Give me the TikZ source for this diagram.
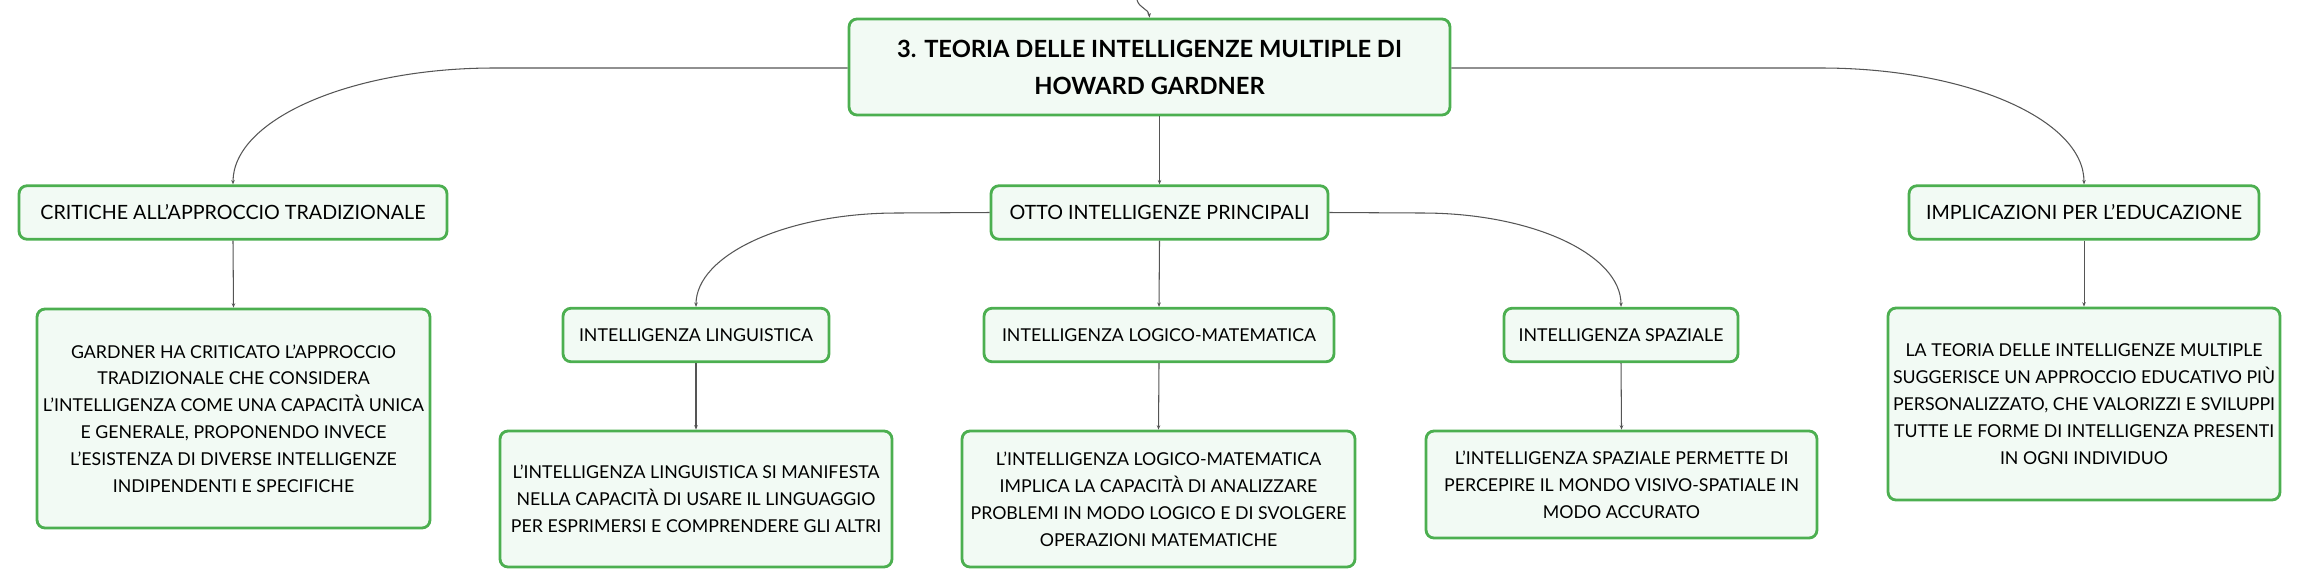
\documentclass[tikz,border=0pt]{standalone}
\usepackage{fontspec}
\setmainfont{Lato}
\usetikzlibrary{arrows.meta}
\definecolor{boxgreen}{HTML}{4CAF50}
\definecolor{boxfill}{HTML}{F2FAF4}
\definecolor{linkgray}{HTML}{555555}

\begin{document}
\begin{tikzpicture}[x=0.02cm, y=-0.02cm,
    box/.style={draw=boxgreen, fill=boxfill, line width=1.6pt, rounded corners=4.5pt, align=center, inner sep=2pt},
    head/.style={box, font=\fontsize{11.2}{14}\selectfont, minimum height=1.07cm},
    sub/.style={head, font=\fontsize{10.1}{14}\selectfont},
    desc/.style={box, font=\fontsize{10.1}{15.3}\selectfont},
    link/.style={draw=linkgray, line width=0.6pt, -{Stealth[length=2.5pt,width=2pt]}}]

    \useasboundingbox (0,0) rectangle (2301,586);

    % Nodes
    \node[box, font=\bfseries\fontsize{13.5}{21}\selectfont, minimum width=12.02cm, minimum height=1.92cm] (root) at (1149.5,67) {3. TEORIA DELLE INTELLIGENZE MULTIPLE DI\\HOWARD GARDNER};

    \node[head, minimum width=8.56cm] (crit) at (233,212.5) {CRITICHE ALL’APPROCCIO TRADIZIONALE};
    \node[head, minimum width=6.74cm] (otto) at (1159.5,212.5) {OTTO INTELLIGENZE PRINCIPALI};
    \node[head, minimum width=7.00cm] (impl) at (2084,212.5) {IMPLICAZIONI PER L’EDUCAZIONE};

    \node[sub, minimum width=5.32cm] (ling) at (696,335) {INTELLIGENZA LINGUISTICA};
    \node[sub, minimum width=7.00cm] (logi) at (1159,335) {INTELLIGENZA LOGICO-MATEMATICA};
    \node[sub, minimum width=4.68cm] (spaz) at (1621,335) {INTELLIGENZA SPAZIALE};

    \node[desc, minimum width=7.86cm, minimum height=4.38cm] (critD) at (233.5,418.5) {GARDNER HA CRITICATO L’APPROCCIO\\TRADIZIONALE CHE CONSIDERA\\L’INTELLIGENZA COME UNA CAPACITÀ UNICA\\E GENERALE, PROPONENDO INVECE\\L’ESISTENZA DI DIVERSE INTELLIGENZE\\INDIPENDENTI E SPECIFICHE};
    \node[desc, minimum width=7.84cm, minimum height=2.72cm] (lingD) at (696,499) {L’INTELLIGENZA LINGUISTICA SI MANIFESTA\\NELLA CAPACITÀ DI USARE IL LINGUAGGIO\\PER ESPRIMERSI E COMPRENDERE GLI ALTRI};
    \node[desc, minimum width=7.86cm, minimum height=2.72cm] (logiD) at (1158.5,499) {L’INTELLIGENZA LOGICO-MATEMATICA\\IMPLICA LA CAPACITÀ DI ANALIZZARE\\PROBLEMI IN MODO LOGICO E DI SVOLGERE\\OPERAZIONI MATEMATICHE};
    \node[desc, minimum width=7.82cm, minimum height=2.14cm] (spazD) at (1621.5,484.5) {L’INTELLIGENZA SPAZIALE PERMETTE DI\\PERCEPIRE IL MONDO VISIVO-SPATIALE IN\\MODO ACCURATO};
    \node[desc, minimum width=7.84cm, minimum height=3.84cm] (implD) at (2084,404) {LA TEORIA DELLE INTELLIGENZE MULTIPLE\\SUGGERISCE UN APPROCCIO EDUCATIVO PIÙ\\PERSONALIZZATO, CHE VALORIZZI E SVILUPPI\\TUTTE LE FORME DI INTELLIGENZA PRESENTI\\IN OGNI INDIVIDUO};

    % bends
    \coordinate (up) at (1137,0);
    \coordinate (rootL) at (494,68);
    \coordinate (rootR) at (1821,68);
    \coordinate (ottoL) at (897,213);
    \coordinate (ottoR) at (1422,213);

    % Links
    \draw[link] (up) to[out=-75,in=95] (root.north);
    \draw[link] (root.west |- rootL) -- (rootL) .. controls +(-143,0) and +(0,-65) .. (crit.north);
    \draw[link] (root.east |- rootR) -- (rootR) .. controls +(145,0) and +(0,-65) .. (impl.north);
    \draw[link] (otto.north |- root.south) -- (otto.north);
    \draw[link] (otto.west) -- (ottoL) .. controls +(-111,0) and +(0,-52) .. (ling.north);
    \draw[link] (otto.east) -- (ottoR) .. controls +(111,0) and +(0,-52) .. (spaz.north);
    \draw[link] (otto.south) -- (logi.north);
    \draw[link] (crit.south) -- (critD.north);
    \draw[link] (ling.south) -- (lingD.north);
    \draw[link] (logi.south) -- (logiD.north);
    \draw[link] (spaz.south) -- (spazD.north);
    \draw[link] (impl.south) -- (implD.north);
\end{tikzpicture}
\end{document}
